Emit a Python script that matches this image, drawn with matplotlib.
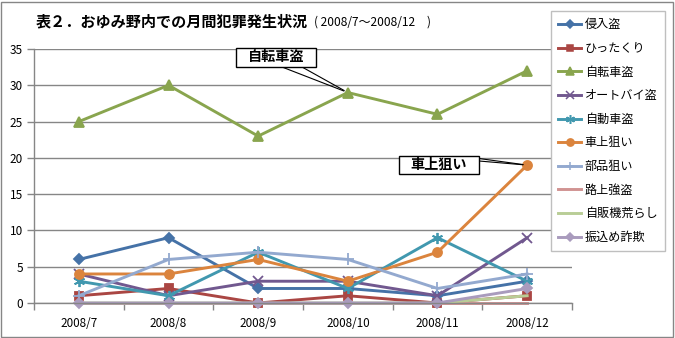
import matplotlib
matplotlib.use("Agg")
import matplotlib.pyplot as plt
from matplotlib.patches import Rectangle
from matplotlib.lines import Line2D

plt.rcParams['font.family'] = ['Noto Sans CJK JP', 'DejaVu Sans']

months = ["2008/7", "2008/8", "2008/9", "2008/10", "2008/11", "2008/12"]

series_names = ["侵入盗", "ひったくり", "自転車盗", "オートバイ盗", "自動車盗",
                "車上狙い", "部品狙い", "路上強盗", "自販機荒らし", "振込め詐欺"]

shinnyu = [6, 9, 2, 2, 1, 3]
hittakuri = [1, 2, 0, 1, 0, 1]
jitensha = [25, 30, 23, 29, 26, 32]
autobai = [4, 1, 3, 3, 1, 9]
jidosha = [3, 1, 7, 2, 9, 3]
shajo = [4, 4, 6, 3, 7, 19]
buhin = [1, 6, 7, 6, 2, 4]
rojo = [0, 0, 0, 0, 0, 0]
jihanki = [0, 0, 0, 0, 0, 1]
furikome = [0, 0, 0, 0, 0, 2]

yticks = [0, 5, 10, 15, 20, 25, 30, 35]

values = [shinnyu, hittakuri, jitensha, autobai, jidosha,
          shajo, buhin, rojo, jihanki, furikome]
colors = ["#4572A7", "#AA4643", "#89A54E", "#71588F", "#4198AF",
          "#DB843D", "#93A9CF", "#D19392", "#B9CD96", "#A99BBD"]
markers = ["D", "s", "^", "x", (6, 2, 0), "o", "+", None, None, "D"]
msizes = [5, 6, 6.5, 7, 8, 6.5, 8, 0, 0, 5]

W, H = 675, 338
fig = plt.figure(figsize=(W / 100, H / 100), dpi=100)

# plot area in pixel terms
L, R, T, B = 34, 572, 49, 303
ax = fig.add_axes([L / W, 1 - B / H, (R - L) / W, (B - T) / H])

grid_c = "#868686"
x = list(range(len(months)))
for vals, c, m, ms in zip(values, colors, markers, msizes):
    ax.plot(x, vals, color=c, lw=2.1, marker=m, markersize=ms,
            markeredgecolor=c, markerfacecolor=c, markeredgewidth=1.3,
            solid_joinstyle='miter', clip_on=False)

ax.set_xlim(-0.5, len(months) - 0.5)
ax.set_ylim(0, 35)
ax.set_yticks(yticks)
ax.set_xticks(x)
ax.set_xticklabels(months, fontsize=8.4)
ax.set_xticks([i - 0.5 for i in range(len(months) + 1)], minor=True)
ax.tick_params(axis='x', which='major', length=0, pad=10)
ax.tick_params(axis='x', which='minor', length=5, color=grid_c, width=1)
ax.tick_params(axis='y', length=5, color=grid_c, width=1, labelsize=8.5, pad=3)
ax.yaxis.grid(True, color=grid_c, lw=1)
ax.set_axisbelow(True)
for s in ["top", "right"]:
    ax.spines[s].set_visible(False)
for s in ["left", "bottom"]:
    ax.spines[s].set_color(grid_c)
    ax.spines[s].set_linewidth(1)

def axfrac(px, py):
    return ((px - L) / (R - L), (B - py) / (B - T))

def callout(text, box, starts, target):
    x0, y0, x1, y1 = box
    fx0, fy1 = axfrac(x0, y1)
    fx1, fy0 = axfrac(x1, y0)
    for sx, sy in starts:
        ax.annotate("", xy=target, xycoords='data',
                    xytext=axfrac(sx, sy), textcoords='axes fraction',
                    arrowprops=dict(arrowstyle='-', color='black', lw=0.8,
                                    shrinkA=0, shrinkB=3))
    ax.add_patch(Rectangle((fx0, fy1), fx1 - fx0, fy0 - fy1,
                           transform=ax.transAxes, facecolor='white',
                           edgecolor='black', lw=1, zorder=5, clip_on=False))
    ax.text((fx0 + fx1) / 2, (fy0 + fy1) / 2, text, transform=ax.transAxes,
            ha='center', va='center', fontsize=10.2, fontweight='bold',
            zorder=6)

callout("自転車盗", (236, 48, 316, 67), [(282, 67), (302, 67)], (3, jitensha[3]))
callout("車上狙い", (399, 156, 479, 174), [(479, 158.5), (479, 161)], (5, shajo[5]))

# title
fig.text(36 / W, 1 - 21 / H, "表２．おゆみ野内での月間犯罪発生状況",
         fontsize=10.9, fontweight='bold', va='center', ha='left')
fig.text(314 / W, 1 - 22 / H, "( 2008/7～2008/12　)",
         fontsize=8.6, va='center', ha='left')

# legend
handles = [Line2D([], [], color=c, lw=2.1, marker=m, markersize=ms * 0.8,
                  markeredgecolor=c, markerfacecolor=c, markeredgewidth=1.1)
           for c, m, ms in zip(colors, markers, msizes)]
leg = fig.legend(handles, series_names, loc='upper left',
                 bbox_to_anchor=(551 / W, 1 - 11 / H), fontsize=8.7,
                 frameon=True, fancybox=False, edgecolor="#BFBFBF",
                 framealpha=1, handlelength=1.9, handletextpad=0.3,
                 labelspacing=0.88, borderpad=0.6, borderaxespad=0)
leg.get_frame().set_linewidth(1)

# outer frame
fig.patches.append(Rectangle((1 / W, 1 / H), (W - 3) / W, (H - 3) / H,
                             transform=fig.transFigure, fill=False,
                             edgecolor="#868686", lw=1))

fig.savefig("out.png", dpi=100)
